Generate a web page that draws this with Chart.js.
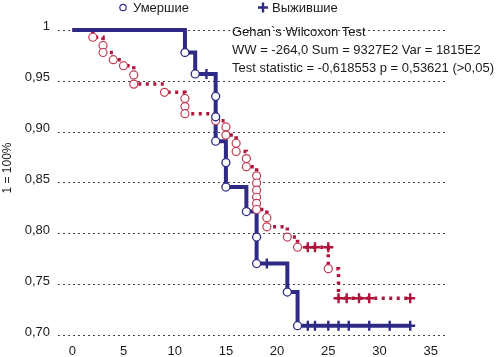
<!DOCTYPE html>
<html>
<head>
<meta charset="utf-8">
<script src="https://cdn.jsdelivr.net/npm/chart.js@4.4.0/dist/chart.umd.min.js"></script>
<style>
  html, body { margin: 0; padding: 0; background: #fff; }
  #wrap { width: 496px; height: 357px; }
</style>
</head>
<body>
<div id="wrap"><canvas id="kmChart" width="496" height="357"></canvas></div>
<script>
// axis ticks
const xTicks = [0, 5, 10, 15, 20, 25, 30, 35];
const yTicks = [0.70, 0.75, 0.80, 0.85, 0.90, 0.95, 1];
const yTickLabels = ['0,70', '0,75', '0,80', '0,85', '0,90', '0,95', '1'];
const yTitle = '1 = 100%';
const legendLabels = ['Умершие', 'Выжившие'];
const statsLines = [
    'Gehan`s Wilcoxon Test',
    'WW = -264,0 Sum = 9327E2 Var = 1815E2',
    'Test statistic = -0,618553 p = 0,53621 (>0,05)'
];

// blue group (solid) - complete (circles) and censored (+)
const blueDeathT = [11, 12, 14, 14, 14, 15, 15, 17, 18, 18, 21, 22];
const blueDeathS = [0.978, 0.957, 0.935, 0.915, 0.891, 0.870, 0.846, 0.822, 0.797, 0.771, 0.743, 0.710];
const blueCensT = [13.1, 19, 23, 23.7, 25, 26, 27, 29, 31, 33];
const blueCensS = [0.957, 0.771, 0.710, 0.710, 0.710, 0.710, 0.710, 0.710, 0.710, 0.710];

// red group (dotted)
const redDeathT = [2, 3, 3, 4, 5, 6, 6, 9, 11, 11, 11, 14, 15, 15, 16, 16, 17, 17,
                   18, 18, 18, 18, 18, 18, 19, 19, 21, 22, 25];
const redDeathS = [0.993, 0.985, 0.978, 0.971, 0.965, 0.956, 0.947, 0.939, 0.933, 0.925, 0.918,
                   0.911, 0.905, 0.897, 0.889, 0.881, 0.874, 0.866,
                   0.857, 0.850, 0.843, 0.836, 0.830, 0.824, 0.816, 0.807, 0.797, 0.787, 0.766];
const redCensT = [23, 23.7, 25, 26, 26.8, 28, 29, 33];
const redCensS = [0.787, 0.787, 0.787, 0.737, 0.737, 0.737, 0.737, 0.737];

const blue = '#2e2a85';
const red = '#b0143c';
const redLight = '#c23a52';
const textColor = '#1a1a1a';

function toPoints(ts, ss) {
    return ts.map((t, i) => ({ x: t, y: ss[i] }));
}

// survival curve: start at 1, then every event, sorted by time
function survivalLine(deaths, cens) {
    const all = [{ x: 0, y: 1 }].concat(deaths, cens);
    all.sort((a, b) => a.x - b.x || b.y - a.y);
    return all;
}

const blueDeaths = toPoints(blueDeathT, blueDeathS);
const blueCens = toPoints(blueCensT, blueCensS);
const redDeaths = toPoints(redDeathT, redDeathS);
const redCens = toPoints(redCensT, redCensS);

const overlay = {
    id: 'overlay',
    afterDraw(chart) {
        const ctx = chart.ctx;
        ctx.save();
        ctx.fillStyle = textColor;
        ctx.textBaseline = 'alphabetic';
        ctx.textAlign = 'left';

        // legend
        ctx.font = '13px "Liberation Sans", Arial, sans-serif';
        ctx.beginPath();
        ctx.arc(123, 7.5, 3.2, 0, Math.PI * 2);
        ctx.fillStyle = '#fff';
        ctx.fill();
        ctx.strokeStyle = blue;
        ctx.lineWidth = 1.2;
        ctx.stroke();
        ctx.fillStyle = textColor;
        ctx.fillText(legendLabels[0], 133, 12);

        ctx.beginPath();
        ctx.moveTo(263, 2.5); ctx.lineTo(263, 12.5);
        ctx.moveTo(258, 7.5); ctx.lineTo(268, 7.5);
        ctx.strokeStyle = blue;
        ctx.lineWidth = 2.4;
        ctx.stroke();
        ctx.fillText(legendLabels[1], 272, 12);

        // test results
        ctx.font = '13px "Liberation Sans", Arial, sans-serif';
        statsLines.forEach((s, i) => ctx.fillText(s, 232, 36 + i * 18));

        // y axis title
        ctx.translate(8, 168);
        ctx.rotate(-Math.PI / 2);
        ctx.textAlign = 'center';
        ctx.textBaseline = 'middle';
        ctx.font = '12px "Liberation Sans", Arial, sans-serif';
        ctx.fillText(yTitle, 0, 0);
        ctx.restore();
    }
};

new Chart(document.getElementById('kmChart'), {
    type: 'scatter',
    data: {
        datasets: [
            {
                data: survivalLine(redDeaths, redCens),
                showLine: true,
                stepped: 'before',
                borderColor: red,
                borderWidth: 3.5,
                borderDash: [3, 4.5],
                borderCapStyle: 'butt',
                pointRadius: 0,
                order: 5
            },
            {
                data: survivalLine(blueDeaths, blueCens),
                showLine: true,
                stepped: 'before',
                borderColor: blue,
                borderWidth: 4,
                pointRadius: 0,
                order: 4
            },
            {
                data: redDeaths,
                pointStyle: 'circle',
                pointRadius: 4,
                backgroundColor: '#fff',
                borderColor: redLight,
                borderWidth: 1.2,
                order: 3
            },
            {
                data: blueDeaths,
                pointStyle: 'circle',
                pointRadius: 4,
                backgroundColor: '#fff',
                borderColor: blue,
                borderWidth: 1.3,
                order: 2
            },
            {
                data: redCens,
                pointStyle: 'cross',
                pointRadius: 5,
                borderColor: red,
                borderWidth: 2.4,
                order: 1
            },
            {
                data: blueCens,
                pointStyle: 'cross',
                pointRadius: 5,
                borderColor: blue,
                borderWidth: 2.4,
                order: 0
            }
        ]
    },
    options: {
        responsive: false,
        animation: false,
        devicePixelRatio: 1,
        layout: { padding: { top: 25, right: 51, left: 0, bottom: 0 } },
        plugins: {
            legend: { display: false },
            tooltip: { enabled: false }
        },
        scales: {
            x: {
                type: 'linear',
                min: -1.4,
                max: 36.4,
                afterBuildTicks: axis => { axis.ticks = xTicks.map(v => ({ value: v })); },
                afterFit: axis => { axis.height = 16; },
                grid: { display: false, drawTicks: false },
                border: { display: false },
                ticks: {
                    padding: 3,
                    color: textColor,
                    font: { family: '"Liberation Sans", Arial, sans-serif', size: 13 },
                    maxRotation: 0
                }
            },
            y: {
                type: 'linear',
                min: 0.695,
                max: 1.005,
                afterBuildTicks: axis => { axis.ticks = yTicks.map(v => ({ value: v })); },
                afterFit: axis => { axis.width = 58; },
                grid: { color: '#444', lineWidth: 1, drawTicks: false },
                border: { display: false, dash: [2, 3] },
                ticks: {
                    padding: 8,
                    labelOffset: -3.5,
                    color: textColor,
                    font: { family: '"Liberation Sans", Arial, sans-serif', size: 13 },
                    callback: (v, i) => yTickLabels[i]
                }
            }
        }
    },
    plugins: [overlay]
});
</script>
</body>
</html>
